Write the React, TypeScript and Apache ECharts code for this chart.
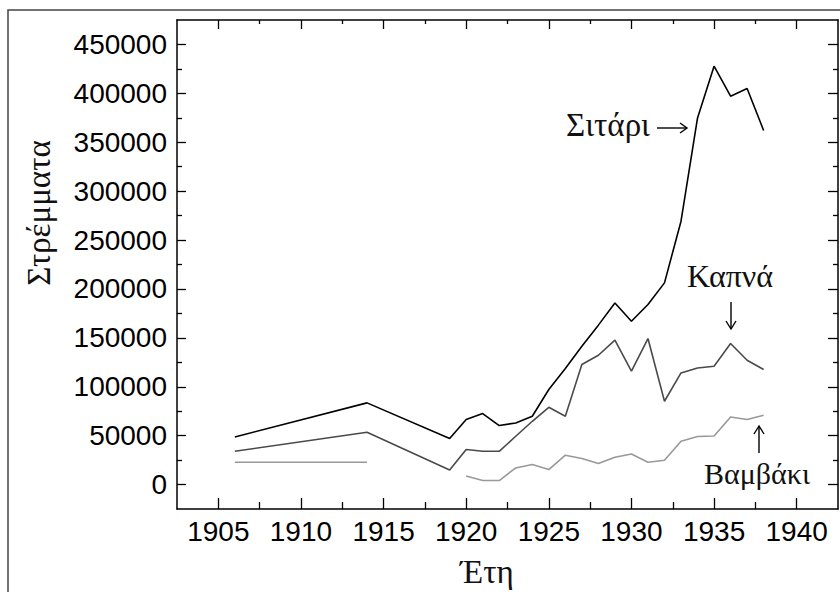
import React, { useEffect, useRef } from "react";
import * as echarts from "echarts";

const years = [1906, 1914, 1919, 1920, 1921, 1922, 1923, 1924, 1925, 1926, 1927, 1928, 1929, 1930, 1931, 1932, 1933, 1934, 1935, 1936, 1937, 1938];
const sitari = [48700, 83500, 47000, 66500, 72600, 60300, 63000, 69800, 97200, 118600, 141400, 163000, 185700, 167000, 184100, 206200, 269300, 374900, 427800, 397100, 405000, 362000];
const kapna = [34000, 53500, 14900, 35800, 34000, 34000, 49400, 64700, 79000, 69800, 122700, 132200, 147600, 115900, 149300, 85200, 114100, 119200, 121000, 144200, 127100, 117600];
const vamvaki: (number | null)[] = [22800, 22800, null, 8800, 4100, 4100, 17000, 20500, 15300, 30000, 26600, 21500, 27900, 31300, 22800, 24900, 44300, 49100, 49700, 69100, 66500, 70900];

const majorYears = [1905, 1910, 1915, 1920, 1925, 1930, 1935, 1940];
const minorYears = [1907.5, 1912.5, 1917.5, 1922.5, 1927.5, 1932.5, 1937.5];
const majorValues = [0, 50000, 100000, 150000, 200000, 250000, 300000, 350000, 400000, 450000];
const minorValues = [25000, 75000, 125000, 175000, 225000, 275000, 325000, 375000, 425000];

const xTitle = "Έτη";
const yTitle = "Στρέμματα";
const labelSitari = "Σιτάρι";
const labelKapna = "Καπνά";
const labelVamvaki = "Βαμβάκι";

const X_MIN = 1902.5;
const X_MAX = 1942.5;
const Y_MIN = -25000;
const Y_MAX = 475000;

const SERIF = "Liberation Serif";
const SANS = "Liberation Sans";

function pairs(vals: (number | null)[]) {
  return years.map((y, i) => [y, vals[i] === null ? "-" : vals[i]]);
}

const plain = (v: number) => String(Math.round(v));

function xAxisDef(position: "top" | "bottom", ticks: number[], len: number, showLine: boolean, showLabel: boolean) {
  return {
    type: "value",
    position,
    min: X_MIN,
    max: X_MAX,
    axisLine: { show: showLine, onZero: false, lineStyle: { color: "#000", width: 1.5 } },
    axisTick: { show: true, inside: true, length: len, customValues: ticks, lineStyle: { color: "#000", width: 1.3 } },
    axisLabel: showLabel
      ? { show: true, customValues: ticks, formatter: plain, fontSize: 28, fontFamily: SANS, color: "#000", margin: 8 }
      : { show: false },
    splitLine: { show: false },
  };
}

function yAxisDef(position: "left" | "right", ticks: number[], len: number, showLine: boolean, showLabel: boolean) {
  return {
    type: "value",
    position,
    min: Y_MIN,
    max: Y_MAX,
    axisLine: { show: showLine, onZero: false, lineStyle: { color: "#000", width: 1.5 } },
    axisTick: { show: true, inside: true, length: len, customValues: ticks, lineStyle: { color: "#000", width: 1.3 } },
    axisLabel: showLabel
      ? { show: true, customValues: ticks, formatter: plain, fontSize: 28, fontFamily: SANS, color: "#000", margin: 10 }
      : { show: false },
    splitLine: { show: false },
  };
}

function arrowHead(tipX: number, tipY: number, dir: "right" | "down" | "up") {
  if (dir === "right") return [[tipX - 7, tipY - 5], [tipX, tipY], [tipX - 7, tipY + 5]];
  if (dir === "down") return [[tipX - 5, tipY - 8], [tipX, tipY], [tipX + 5, tipY - 8]];
  return [[tipX - 5, tipY + 8], [tipX, tipY], [tipX + 5, tipY + 8]];
}

function serifText(text: string, x: number, y: number, size: number, align: string, rotation = 0) {
  return {
    type: "text",
    x,
    y,
    rotation,
    style: { text, fontFamily: SERIF, fontSize: size, fill: "#111", align, verticalAlign: "middle" },
  };
}

export default function App() {
  const ref = useRef<HTMLDivElement>(null);
  useEffect(() => {
    if (!ref.current) return;
    const chart = echarts.init(ref.current, undefined, { renderer: "svg" });
    const arrowStyle = { stroke: "#000", lineWidth: 1.4, fill: "none" };
    chart.setOption({
      animation: false,
      backgroundColor: "#fff",
      grid: { left: 177, right: 2, top: 20, bottom: 83, containLabel: false },
      xAxis: [
        xAxisDef("bottom", majorYears, 11, true, true),
        xAxisDef("bottom", minorYears, 7, false, false),
        xAxisDef("top", majorYears, 9, true, false),
        xAxisDef("top", minorYears, 4, false, false),
      ],
      yAxis: [
        yAxisDef("left", majorValues, 9, true, true),
        yAxisDef("left", minorValues, 5, false, false),
        yAxisDef("right", majorValues, 10, true, false),
        yAxisDef("right", minorValues, 5, false, false),
      ],
      series: [
        { name: labelSitari, type: "line", xAxisIndex: 0, yAxisIndex: 0, data: pairs(sitari), symbol: "none", lineStyle: { color: "#000", width: 1.6 } },
        { name: labelKapna, type: "line", xAxisIndex: 0, yAxisIndex: 0, data: pairs(kapna), symbol: "none", lineStyle: { color: "#4a4a4a", width: 1.6 } },
        { name: labelVamvaki, type: "line", xAxisIndex: 0, yAxisIndex: 0, data: pairs(vamvaki), symbol: "none", connectNulls: false, lineStyle: { color: "#999", width: 1.6 } },
      ],
      graphic: [
        { type: "rect", shape: { x: 8, y: 10, width: 900, height: 700 }, style: { fill: "none", stroke: "#444", lineWidth: 1.5 }, silent: true },
        serifText(labelSitari, 650, 125, 33, "right"),
        { type: "line", shape: { x1: 657, y1: 128, x2: 687, y2: 128 }, style: arrowStyle },
        { type: "polyline", shape: { points: arrowHead(687, 128, "right") }, style: arrowStyle },
        serifText(labelKapna, 730, 276, 32, "center"),
        { type: "line", shape: { x1: 731, y1: 302, x2: 731, y2: 329 }, style: arrowStyle },
        { type: "polyline", shape: { points: arrowHead(731, 329, "down") }, style: arrowStyle },
        serifText(labelVamvaki, 757, 473, 30, "center"),
        { type: "line", shape: { x1: 759, y1: 453, x2: 759, y2: 426 }, style: arrowStyle },
        { type: "polyline", shape: { points: arrowHead(759, 426, "up") }, style: arrowStyle },
        serifText(xTitle, 487, 572, 33, "center"),
        serifText(yTitle, 39, 213, 33, "center", Math.PI / 2),
      ],
    });
    return () => chart.dispose();
  }, []);
  return <div ref={ref} style={{ position: "fixed", left: 0, top: 0, width: 840, height: 592 }} />;
}
